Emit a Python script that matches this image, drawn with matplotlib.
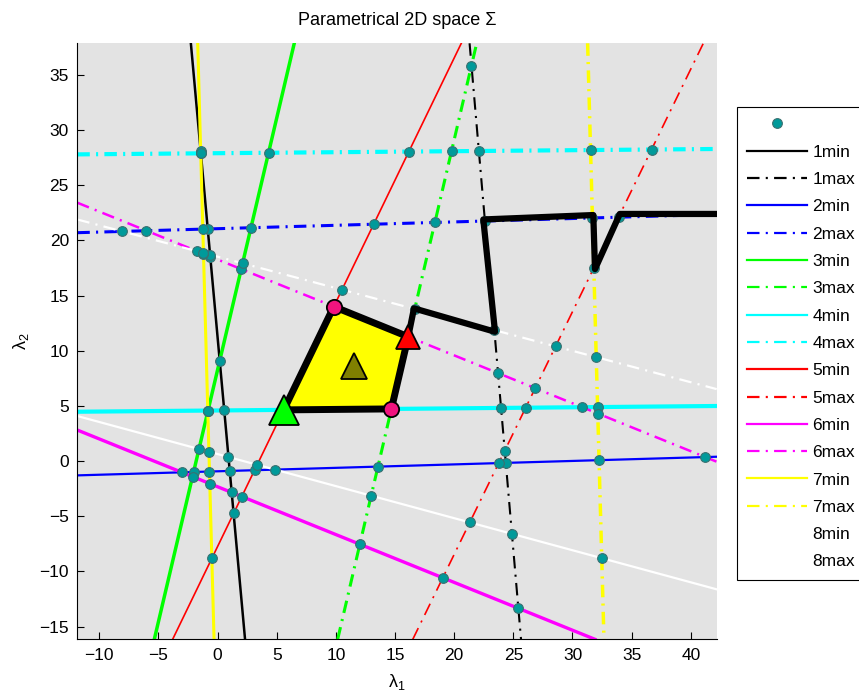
import numpy as np
import matplotlib
matplotlib.use('Agg')
import matplotlib.pyplot as plt
from matplotlib.lines import Line2D
from matplotlib.patches import Polygon

plt.rcParams['font.family'] = ['Liberation Sans', 'DejaVu Sans']
plt.rcParams['lines.scale_dashes'] = False

##########################################
# constraint lines (two points each, in lambda1 / lambda2 units)
names = ['1min', '1max', '2min', '2max', '3min', '3max', '4min', '4max',
         '5min', '5max', '6min', '6max', '7min', '7max', '8min', '8max']
pa_x = [-2.26, 21.30, -11.86, -11.86, 6.48, 21.90, -11.86, -11.86,
        20.60, 41.06, -11.86, -11.86, -1.68, 31.28, -11.86, -11.86]
pa_y = [37.87, 37.87, -1.30, 20.70, 37.87, 37.87, 4.47, 27.80,
        37.87, 37.87, 2.81, 23.42, 37.87, 37.87, 4.08, 21.90]
pb_x = [2.32, 25.65, 42.19, 42.19, -5.35, 10.15, 42.19, 42.19,
        -3.80, 16.50, 31.90, 42.19, -0.30, 32.66, 42.19, 42.19]
pb_y = [-16.16, -16.16, 0.39, 22.36, -16.16, -16.16, 4.99, 28.29,
        -16.16, -16.16, -16.16, -0.06, -16.16, -16.16, -11.63, 6.52]

# feasible region = corners where these pairs of constraints meet
region_pairs = [('4min', '5min'), ('5min', '6max'), ('6max', '3max'), ('3max', '4min')]

# search path drawn from the 3max/6max corner
path_x = [16.60, 23.45, 22.46, 31.76, 31.90, 34.00, 42.50]
path_y = [13.84, 11.72, 21.90, 22.30, 17.40, 22.40, 22.40]

##########################################
# styles
colors = ['k', 'k', '#0000ff', '#0000ff', '#00ff00', '#00ff00', '#00ffff', '#00ffff',
          '#ff0000', '#ff0000', '#ff00ff', '#ff00ff', '#ffff00', '#ffff00', 'w', 'w']
widths = [1.8, 1.5, 1.6, 2.2, 2.5, 2.2, 3.0, 3.0,
          1.2, 1.2, 2.4, 1.8, 2.2, 2.5, 1.6, 1.6]
dashdot = (9, 4.5, 1.5, 4.5)
dot_face = '#009a9a'
dot_edge = '#3a7070'

xlim = (-11.86, 42.19)
ylim = (-16.16, 37.87)


def cross(i, j):
    x1, y1, x2, y2 = pa_x[i], pa_y[i], pb_x[i], pb_y[i]
    x3, y3, x4, y4 = pa_x[j], pa_y[j], pb_x[j], pb_y[j]
    d = (x1 - x2) * (y3 - y4) - (y1 - y2) * (x3 - x4)
    if abs(d) < 1e-12:
        return None
    t = ((x1 - x3) * (y3 - y4) - (y1 - y3) * (x3 - x4)) / d
    return x1 + t * (x2 - x1), y1 + t * (y2 - y1)


fig = plt.figure(figsize=(8.59, 6.95), dpi=100)
ax = fig.add_axes([77.3 / 859, 1 - 639.3 / 695, (716.7 - 77.3) / 859, (639.3 - 43.3) / 695])
ax.set_facecolor('#e3e3e3')

handles = []
for k in range(len(names)):
    if names[k].endswith('max'):
        ln = ax.axline((pa_x[k], pa_y[k]), (pb_x[k], pb_y[k]), color=colors[k],
                       lw=widths[k], dashes=dashdot, zorder=2)
    else:
        ln = ax.axline((pa_x[k], pa_y[k]), (pb_x[k], pb_y[k]), color=colors[k],
                       lw=widths[k], zorder=2)
    handles.append(Line2D([], [], color=colors[k], lw=1.6,
                          dashes=dashdot if names[k].endswith('max') else (None, None)))

# every crossing of two constraints inside the window
dx, dy = [], []
for i in range(len(names)):
    for j in range(i + 1, len(names)):
        p = cross(i, j)
        if p is None:
            continue
        if xlim[0] <= p[0] <= xlim[1] and ylim[0] <= p[1] <= ylim[1]:
            dx.append(p[0])
            dy.append(p[1])
ax.plot(dx, dy, 'o', ms=7, mfc=dot_face, mec=dot_edge, mew=0.8, zorder=3)

# feasible region
verts = [cross(names.index(a), names.index(b)) for a, b in region_pairs]
ax.add_patch(Polygon(verts, closed=True, fc='#ffff00', ec='k', lw=5, joinstyle='miter', zorder=4))

ax.plot([verts[2][0]] + path_x, [verts[2][1]] + path_y, 'k-', lw=4.5, zorder=5)

ax.plot(verts[1][0], verts[1][1], 'o', ms=11, mfc='#f0147f', mec='k', mew=1.3, zorder=6)
ax.plot(verts[3][0], verts[3][1], 'o', ms=11, mfc='#f0147f', mec='k', mew=1.3, zorder=6)
ax.plot(verts[0][0], verts[0][1], '^', ms=22, mfc='#00ff00', mec='k', mew=1.3, zorder=6)
ax.plot(verts[2][0], verts[2][1], '^', ms=17, mfc='#ff0000', mec='k', mew=1.3, zorder=6)
cx = np.mean([v[0] for v in verts])
cy = np.mean([v[1] for v in verts])
ax.plot(cx, cy, '^', ms=19, mfc='#808000', mec='k', mew=1.3, zorder=6)

ax.set_xlim(xlim)
ax.set_ylim(ylim)
ax.set_xticks(np.arange(-10, 41, 5))
ax.set_yticks(np.arange(-15, 36, 5))
ax.tick_params(direction='in', length=5, width=0.8, labelsize=12.5, pad=6)
ax.spines['top'].set_visible(False)
ax.spines['right'].set_visible(False)
ax.set_title('Parametrical 2D space \u03a3', fontsize=13, pad=13)
ax.set_xlabel(r'$\mathregular{\lambda_1}$', fontsize=13, labelpad=7)
ax.set_ylabel(r'$\mathregular{\lambda_2}$', fontsize=13, labelpad=6)

dot_handle = Line2D([], [], ls='none', marker='o', ms=7, mfc=dot_face, mec=dot_edge, mew=0.8)
leg = fig.legend([dot_handle] + handles, [''] + names, loc='upper left',
                 bbox_to_anchor=(737 / 859, 1 - 107 / 695), bbox_transform=fig.transFigure,
                 fancybox=False, edgecolor='k', framealpha=1, borderaxespad=0,
                 borderpad=0.6, labelspacing=0.7, handlelength=3.45, handletextpad=0.3,
                 fontsize=12.5)
leg.get_frame().set_linewidth(0.8)

plt.savefig('out.png', dpi=100)
